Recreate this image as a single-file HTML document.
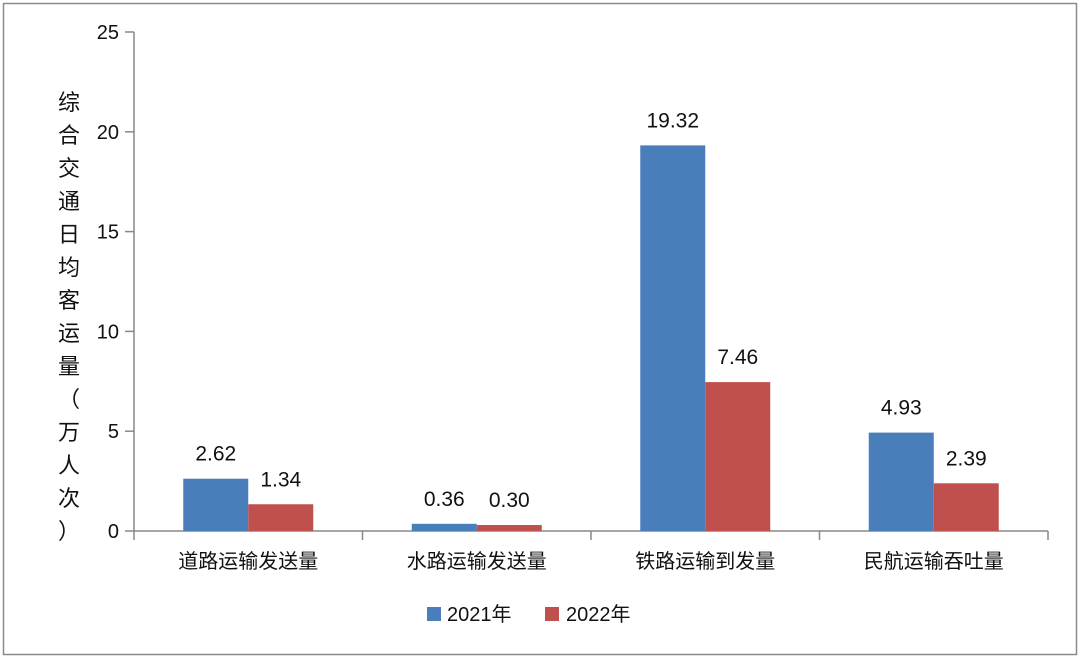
<!DOCTYPE html>
<html><head><meta charset="utf-8"><style>
body{margin:0;background:#fff}
svg{display:block}
text{font-family:"Liberation Sans","Noto Sans CJK SC",sans-serif}
</style></head><body>
<svg width="1080" height="658" viewBox="0 0 1080 658">
<rect x="3.5" y="3.5" width="1073" height="651" fill="#fff" stroke="#8a8a8a" stroke-width="1.5"/>
<g id="axes"></g><g id="bars"></g>
<text x="58" y="0" font-size="22" fill="#111">
<tspan x="58" y="110">综</tspan><tspan x="58" y="143">合</tspan><tspan x="58" y="176">交</tspan><tspan x="58" y="209">通</tspan><tspan x="58" y="242">日</tspan><tspan x="58" y="275">均</tspan><tspan x="58" y="308">客</tspan><tspan x="58" y="341">运</tspan><tspan x="58" y="374">量</tspan><tspan x="58" y="407">（</tspan><tspan x="58" y="440">万</tspan><tspan x="58" y="473">人</tspan><tspan x="58" y="506">次</tspan><tspan x="58" y="539">）</tspan>
</text>
<g>
<rect x="427" y="607" width="14" height="14" fill="#4a7ebb"/>
<text x="447" y="621" font-size="20" fill="#111">2021年</text>
<rect x="545" y="607" width="14" height="14" fill="#c0504d"/>
<text x="566" y="621" font-size="20" fill="#111">2022年</text>
</g>
</svg>
<script>
const categories=["道路运输发送量","水路运输发送量","铁路运输到发量","民航运输吞吐量"];
const s2021=[2.62,0.36,19.32,4.93];
const s2022=[1.34,0.30,7.46,2.39];
const yTicks=[0,5,10,15,20,25];
const X0=134,X1=1048,Y0=531,Y1=32,YMAX=25;
const NS="http://www.w3.org/2000/svg";
const y=v=>Y0-(v/YMAX)*(Y0-Y1);
const cw=(X1-X0)/categories.length;
const axes=document.getElementById('axes'),bars=document.getElementById('bars');
function mk(t,a,p){const e=document.createElementNS(NS,t);for(const k in a)e.setAttribute(k,a[k]);p.appendChild(e);return e;}
let l=mk('line',{x1:X0,y1:Y1,x2:X0,y2:Y0,stroke:'#888','stroke-width':1.5},axes);


l=mk('line',{x1:X0,y1:Y0,x2:X1,y2:Y0,stroke:'#888','stroke-width':1.5},axes);


yTicks.forEach(v=>{
 const t=mk('line',{x1:X0-9,y1:y(v),x2:X0,y2:y(v),stroke:'#888','stroke-width':1.5},axes);
 
 
 const tx=mk('text',{x:X0-15,y:y(v)+7,'font-size':20,'text-anchor':'end',fill:'#111'},axes);
 tx.textContent=v;
 
 
});
for(let i=0;i<=categories.length;i++){
 const t=mk('line',{x1:X0+i*cw,y1:Y0,x2:X0+i*cw,y2:Y0+9,stroke:'#888','stroke-width':1.5},axes);
 
 
}
const bw=65;
categories.forEach((c,i)=>{
 const cx=X0+cw*(i+0.5);
 const lab=mk('text',{x:cx,y:568,'font-size':20,'text-anchor':'middle',fill:'#111','font-family':'"Noto Serif CJK SC",serif'},axes);
 lab.textContent=c;
 
 
 [[s2021,'#4a7ebb',cx-bw,'2021'],[s2022,'#c0504d',cx,'2022']].forEach(([s,col,bx,yr])=>{
  const v=s[i];
  const r=mk('rect',{x:bx,y:y(v),width:bw,height:Y0-y(v),fill:col},bars);
  
  
  const t=mk('text',{x:bx+bw/2,y:y(v)-18,'font-size':21,'text-anchor':'middle',fill:'#111'},bars);
  t.textContent=v.toFixed(2);
  
  
 });
});
</script>
</body></html>
